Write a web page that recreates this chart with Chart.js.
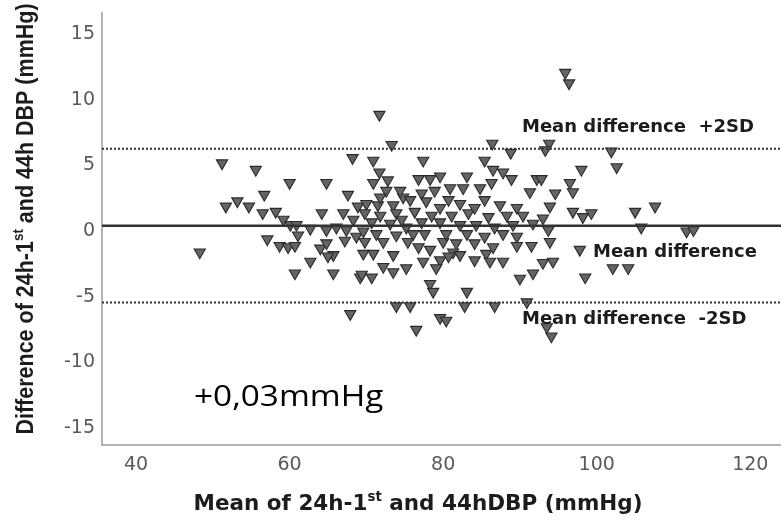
<!DOCTYPE html>
<html>
<head>
<meta charset="utf-8">
<title>Bland-Altman DBP</title>
<script src="https://cdn.jsdelivr.net/npm/chart.js@4.4.1/dist/chart.umd.min.js"></script>
<style>
  html, body { margin: 0; padding: 0; background: #fff; overflow: hidden; }
  canvas { display: block; }
</style>
</head>
<body>
<canvas id="baChart" width="781" height="527"></canvas>
<script>
// --- DATA ---
const meanBP = [
  51.2, 55.6, 60.0, 64.8, 68.2, 56.7, 51.7, 53.2, 54.7, 56.5, 58.2, 64.2, 59.2, 60.1, 60.9, 62.7, 61.1, 57.1, 58.7, 59.8,
  60.7, 48.3, 62.7, 60.7, 65.7, 67.9, 64.0, 64.8, 65.7, 65.0, 67.0, 67.6, 67.4, 67.2, 68.7, 68.3, 68.9, 69.2, 66.1, 64.8,
  71.7, 73.3, 86.4, 88.8, 70.9, 77.4, 85.4, 86.5, 87.8, 71.7, 70.9, 72.8, 76.8, 78.3, 79.6, 83.1, 88.9, 92.2, 72.6, 80.9,
  82.6, 84.8, 86.3, 91.3, 74.8, 77.2, 78.9, 70.0, 71.5, 73.5, 75.7, 77.8, 80.7, 82.2, 85.4, 87.4, 89.6, 69.8, 71.8, 73.9,
  76.3, 78.5, 81.1, 83.3, 85.9, 88.3, 90.4, 70.7, 73.1, 75.2, 79.6, 84.3, 86.7, 91.7, 69.6, 71.3, 73.9, 77.6, 83.1, 87.8,
  89.6, 69.8, 72.2, 75.4, 80.0, 81.7, 84.1, 89.6, 91.5, 69.6, 70.9, 73.5, 76.8, 78.3, 81.3, 85.6, 86.5, 77.4, 79.6, 80.7,
  82.2, 84.1, 86.1, 87.8, 72.2, 73.5, 75.2, 79.1, 69.4, 70.7, 90.0, 91.7, 78.3, 78.7, 83.1, 90.9, 73.9, 75.7, 82.8, 86.7,
  79.6, 80.4, 76.5, 74.6, 77.2, 82.2, 89.1, 76.1, 80.4, 85.4, 79.6, 84.1, 74.4, 71.8,
  95.9, 96.4, 93.8, 93.3, 101.9, 102.6, 98.0, 92.8, 96.5, 96.9, 94.6, 93.9, 96.9, 98.2, 99.3, 105.0, 107.6, 93.0, 105.8, 111.7,
  112.6, 93.7, 93.9, 97.8, 94.3, 93.0, 102.1, 104.1, 98.5, 93.5, 94.1
];
const diffBP = [
  4.8, 4.3, 3.3, 3.3, 5.2, 2.4, 1.5, 1.9, 1.5, 1.0, 1.1, 1.0, 0.5, 0.1, 0.1, -0.2, -0.7, -1.0, -1.5, -1.6,
  -1.5, -2.0, -2.7, -3.6, -3.6, -6.7, -1.7, -1.3, -2.2, -2.3, 1.0, 2.4, -0.3, -1.1, -0.8, 0.5, 1.5, -3.9, -0.1, -0.3,
  8.5, 6.2, 6.3, 5.6, 5.0, 5.0, 5.0, 4.3, 4.1, 4.1, 3.3, 3.5, 3.6, 3.6, 3.8, 3.8, 3.6, 3.6, 2.7, 2.9,
  2.9, 2.9, 3.3, 2.6, 2.2, 2.5, 2.7, 1.7, 1.6, 1.6, 2.0, 1.9, 2.0, 1.7, 2.0, 1.6, 1.4, 1.0, 0.8, 1.0,
  1.1, 0.8, 0.8, 1.0, 0.7, 0.8, 0.8, 0.3, 0.2, -0.1, 0.3, 0.1, -0.1, 0.2, -0.4, -0.6, -0.7, -0.6, -0.6, -0.6,
  -0.8, -1.2, -1.2, -1.2, -1.2, -1.3, -1.3, -1.5, -1.5, -2.1, -2.1, -2.2, -1.6, -1.8, -2.0, -2.1, -1.6, -2.7, -2.6, -2.3,
  -2.2, -2.6, -2.7, -2.7, -3.1, -3.5, -3.2, -3.2, -3.7, -3.9, -4.0, -3.6, -4.4, -5.0, -5.0, -5.8, -6.1, -6.1, -6.1, -6.1,
  -7.0, -7.2, -7.9, 0.5, 0.3, 0.1, 0.1, -0.6, -0.6, -0.8, 1.4, 1.4, 2.7, 2.2,
  11.7, 10.9, 6.3, 5.8, 5.7, 4.5, 4.3, 3.6, 3.3, 2.6, 2.5, 1.5, 1.1, 0.7, 1.0, 1.1, 1.5, 0.6, -0.1, -0.4,
  -0.3, -0.3, -1.2, -1.8, -2.7, -2.8, -3.2, -3.2, -3.9, -7.7, -8.4
];
const xTicks = [40, 60, 80, 100, 120];
const yTicks = [-15, -10, -5, 0, 5, 10, 15];
const xRange = [35.57, 124.0];
const yRange = [-16.7, 16.25];
const meanDiff = 0.03;
const upperLoA = 5.9;
const lowerLoA = -5.84;

const xTitleParts = [{ t: 'Mean of 24h-1' }, { t: 'st', sup: true }, { t: ' and 44hDBP (mmHg)' }];
const yTitleParts = [{ t: 'Difference of 24h-1' }, { t: 'st', sup: true }, { t: ' and 44h DBP (mmHg)' }];

// --- helpers ---
function partsWidth(ctx, parts, size, family) {
    let w = 0;
    parts.forEach(p => {
        ctx.font = `bold ${p.sup ? size * 0.62 : size}px ${family}`;
        w += ctx.measureText(p.t).width;
    });
    return w;
}

function drawParts(ctx, parts, x, y, size, family) {
    let cx = x - partsWidth(ctx, parts, size, family) / 2;
    parts.forEach(p => {
        ctx.font = `bold ${p.sup ? size * 0.62 : size}px ${family}`;
        ctx.fillText(p.t, cx, p.sup ? y - size * 0.4 : y);
        cx += ctx.measureText(p.t).width;
    });
}

// keep the plot area exactly where the axes are set, no label overflow padding
function noEdgePadding(s) {
    s.paddingTop = 0;
    s.paddingBottom = 0;
    s.paddingLeft = 0;
    s.paddingRight = 0;
}

const textPlugin = {
    id: 'baText',
    afterDraw(chart) {
        const { ctx, scales: { x, y } } = chart;
        ctx.save();
        ctx.fillStyle = '#1c1c1c';
        ctx.textAlign = 'left';
        ctx.textBaseline = 'alphabetic';

        // axis titles
        drawParts(ctx, xTitleParts, 418, 510, 21.5, '"DejaVu Sans"');
        ctx.save();
        ctx.translate(33, 219);
        ctx.rotate(-Math.PI / 2);
        ctx.scale(1, 1.15);
        drawParts(ctx, yTitleParts, 0, 0, 21.5, '"Liberation Sans"');
        ctx.restore();

        // reference line labels
        ctx.font = 'bold 18px "DejaVu Sans"';
        ctx.fillText('Mean difference  +2SD', 522, y.getPixelForValue(upperLoA) - 17);
        ctx.fillText('Mean difference', 593, y.getPixelForValue(meanDiff) + 31);
        ctx.fillText('Mean difference  -2SD', 522, y.getPixelForValue(lowerLoA) + 21);

        // mean value annotation
        ctx.save();
        ctx.translate(194, 406);
        ctx.scale(1.15, 1);
        ctx.font = '29px "Open Sans"';
        ctx.fillStyle = '#000';
        ctx.fillText('+' + meanDiff.toFixed(2).replace('.', ',') + 'mmHg', 0, 0);
        ctx.restore();

        ctx.restore();
    }
};

function hLine(value, dash, width) {
    return {
        type: 'line',
        data: [{ x: xRange[0], y: value }, { x: xRange[1], y: value }],
        borderColor: '#333333',
        borderWidth: width,
        borderDash: dash,
        pointRadius: 0,
        fill: false,
        order: 0
    };
}

Chart.defaults.font.family = '"DejaVu Sans"';

new Chart(document.getElementById('baChart'), {
    type: 'scatter',
    data: {
        datasets: [
            hLine(meanDiff, [], 2.5),
            hLine(upperLoA, [2, 2], 2),
            hLine(lowerLoA, [2, 2], 2),
            {
                type: 'scatter',
                data: meanBP.map((v, i) => ({ x: v, y: diffBP[i] })),
                pointStyle: 'triangle',
                rotation: 180,
                pointRadius: 6.5,
                backgroundColor: '#646464',
                borderColor: '#2b2b2b',
                borderWidth: 1.1,
                order: 1
            }
        ]
    },
    options: {
        responsive: false,
        animation: false,
        devicePixelRatio: 1,
        layout: { autoPadding: false, padding: { top: 13, right: 0, bottom: 0, left: 0 } },
        plugins: { legend: { display: false }, tooltip: { enabled: false } },
        scales: {
            x: {
                type: 'linear',
                min: xRange[0],
                max: xRange[1],
                afterFit: s => { s.height = 82; noEdgePadding(s); },
                afterBuildTicks: s => { s.ticks = xTicks.map(v => ({ value: v })); },
                grid: { display: false, drawTicks: false },
                border: { display: true, color: '#b3b3b3', width: 2 },
                ticks: { color: '#5a5a5a', font: { size: 19 }, padding: 9, maxRotation: 0 }
            },
            y: {
                type: 'linear',
                min: yRange[0],
                max: yRange[1],
                afterFit: s => { s.width = 102; noEdgePadding(s); },
                afterBuildTicks: s => { s.ticks = yTicks.map(v => ({ value: v })); },
                grid: { display: false, drawTicks: false },
                border: { display: true, color: '#b3b3b3', width: 2 },
                ticks: { color: '#5a5a5a', font: { size: 19 }, padding: 7, labelOffset: 5 }
            }
        }
    },
    plugins: [textPlugin]
});
</script>
</body>
</html>
